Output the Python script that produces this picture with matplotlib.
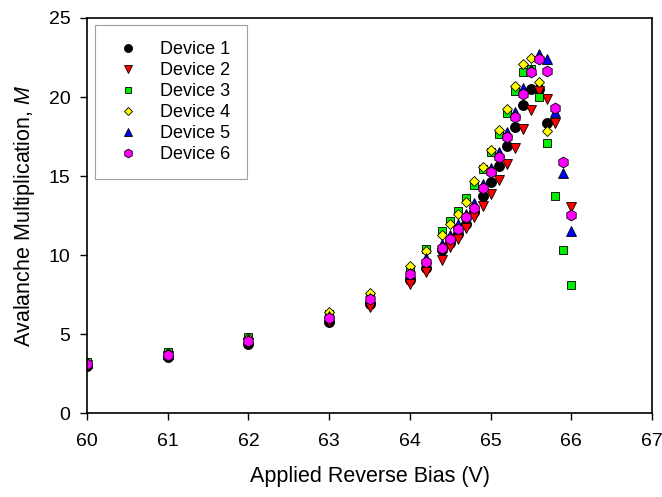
import matplotlib
matplotlib.use('Agg')
import matplotlib.pyplot as plt

plt.rcParams['font.family'] = ['Liberation Sans', 'DejaVu Sans']
plt.rcParams['mathtext.fontset'] = 'custom'
plt.rcParams['mathtext.rm'] = 'Liberation Sans'
plt.rcParams['mathtext.it'] = 'Liberation Sans:italic'

# bias points (V)
bias = [60, 61, 62, 63, 63.5, 64, 64.2, 64.4, 64.5, 64.6, 64.7, 64.8, 64.9,
        65.0, 65.1, 65.2, 65.3, 65.4, 65.5, 65.6, 65.7, 65.8, 65.9, 66.0]

dev1 = [3.0, 3.55, 4.4, 5.8, 6.9, 8.45, 9.2, 10.3, 10.8, 11.35, 11.95, 12.7,
        13.75, 14.6, 15.65, 16.9, 18.1, 19.5, 20.5, 20.5, 18.35]
dev2 = [3.05, 3.6, 4.45, 5.75, 6.75, 8.15, 8.93, 9.7, 10.5, 11.05, 11.7, 12.4,
        13.1, 13.86, 14.77, 15.76, 16.75, 18.0, 19.2, 20.4, 19.88, 18.35]
dev2_end = 13.07  # last reading at 66.0 V
dev3 = [3.25, 3.85, 4.8, 6.3, 7.45, 9.1, 10.4, 11.5, 12.15, 12.8, 13.6, 14.45,
        15.45, 16.5, 17.65, 19.0, 20.4, 21.6, 21.8, 20.0, 17.1, 13.75, 10.35, 8.1]
dev4 = [3.2, 3.8, 4.75, 6.4, 7.6, 9.3, 10.25, 11.3, 11.95, 12.58, 13.35, 14.7,
        15.6, 16.67, 17.94, 19.25, 20.73, 22.1, 22.5, 20.98, 17.85]
dev5 = [3.15, 3.75, 4.7, 6.15, 7.3, 8.9, 9.8, 10.7, 11.3, 11.95, 12.6, 13.3,
        14.5, 15.5, 16.5, 17.77, 19.05, 20.56, 21.8, 22.74, 22.38, 19.03, 15.2, 11.52]
dev6 = [3.1, 3.7, 4.6, 6.05, 7.2, 8.78, 9.56, 10.47, 11.04, 11.63, 12.4, 13.0,
        14.28, 15.23, 16.18, 17.45, 18.75, 20.2, 21.58, 22.42, 21.64, 19.28, 15.92, 12.52]

fig = plt.figure(figsize=(6.62, 4.97), dpi=100)
ax = fig.add_axes([0.1314, 0.1684, 0.8536, 0.7954])

kw = dict(linestyle='none', markeredgecolor='black', markeredgewidth=0.6)
ax.plot(bias[:len(dev1)], dev1, marker='o', color='black', markersize=7.2, label='Device 1', **kw)
ax.plot(bias[:len(dev2)] + [bias[-1]], dev2 + [dev2_end], marker='v', color='red',
        markersize=7.2, label='Device 2', **kw)
ax.plot(bias[:len(dev3)], dev3, marker='s', color='#00ee00', markersize=6.0, label='Device 3', **kw)
ax.plot(bias[:len(dev4)], dev4, marker='D', color='yellow', markersize=5.6, label='Device 4', **kw)
ax.plot(bias[:len(dev5)], dev5, marker='^', color='blue', markersize=7.2, label='Device 5', **kw)
ax.plot(bias[:len(dev6)], dev6, marker='h', color='magenta', markersize=7.8, label='Device 6', **kw)

ax.set_xlim(60, 67)
ax.set_ylim(0, 25)
ax.set_xticks(range(60, 68))
ax.set_yticks(range(0, 26, 5))
ax.tick_params(direction='out', length=5, width=1, labelsize=14)
ax.tick_params(axis='x', pad=9)
ax.tick_params(axis='y', pad=7)
for s in ax.spines.values():
    s.set_linewidth(1.2)

ax.set_xlabel('Applied Reverse Bias (V)', fontsize=15.5, labelpad=12)
ax.set_ylabel('Avalanche Multiplication, $\\it{M}$', fontsize=15.5, labelpad=8)

leg = ax.legend(loc='upper left', bbox_to_anchor=(0.0142, 0.982), borderaxespad=0,
                fontsize=13, markerscale=0.8, frameon=True, fancybox=False,
                edgecolor='#888888', borderpad=0.9, labelspacing=0.22,
                handletextpad=0.85, handlelength=1.85)
leg.get_frame().set_linewidth(0.8)

fig.savefig('out.png', dpi=100)
